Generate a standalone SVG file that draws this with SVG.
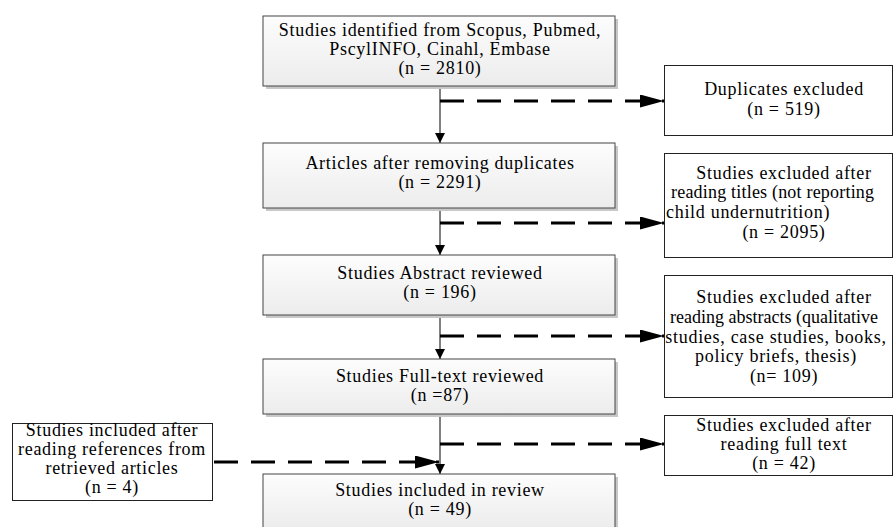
<svg xmlns="http://www.w3.org/2000/svg" width="894" height="527" viewBox="0 0 894 527">
<style>
text{font-family:"Liberation Serif","Times New Roman",serif;font-size:18px;letter-spacing:0.7px;fill:#000;text-anchor:middle}
.main{fill:url(#g);stroke:#444;stroke-width:1}
.shadow{fill:#c8c8c8}
.side{fill:#fff;stroke:#222;stroke-width:1}
.solid{stroke:#000;stroke-width:1;fill:none}
.dash{stroke:#000;stroke-width:3;stroke-dasharray:24 13;fill:none}
</style>
<defs>
<linearGradient id="g" x1="0" y1="0" x2="0" y2="1">
<stop offset="0" stop-color="#fdfdfd"/>
<stop offset="1" stop-color="#ececec"/>
</linearGradient>
<marker id="sm" markerUnits="userSpaceOnUse" markerWidth="10" markerHeight="12" refX="10" refY="5" orient="auto">
<path d="M0,0 L10,5 L0,10 Z" fill="#000"/>
</marker>
<marker id="big" markerUnits="userSpaceOnUse" markerWidth="24" markerHeight="14" refX="24" refY="6.5" orient="auto">
<path d="M0,0 L24,6.5 L0,13 Z" fill="#000"/>
</marker>
</defs>

<g id="connectors">
<line class="solid" x1="440" y1="86" x2="440" y2="143" marker-end="url(#sm)"/>
<line class="solid" x1="440" y1="208" x2="440" y2="255" marker-end="url(#sm)"/>
<line class="solid" x1="440" y1="315" x2="440" y2="359" marker-end="url(#sm)"/>
<line class="solid" x1="440" y1="414" x2="440" y2="474" marker-end="url(#sm)"/>
<line class="dash" x1="440" y1="101" x2="664" y2="101" marker-end="url(#big)"/>
<line class="dash" x1="440" y1="223" x2="664" y2="223" marker-end="url(#big)"/>
<line class="dash" x1="440" y1="336" x2="664" y2="336" marker-end="url(#big)"/>
<line class="dash" x1="440" y1="444" x2="664" y2="444" marker-end="url(#big)"/>
<line class="dash" x1="214" y1="462" x2="439" y2="462" marker-end="url(#big)"/>
</g>

<g id="identified">
<rect class="shadow" x="266" y="19" width="352" height="70"/>
<rect class="main" x="263" y="16" width="352" height="70"/>
<text x="440" y="36">Studies identified from Scopus, Pubmed,</text>
<text x="440" y="55">PscylINFO, Cinahl, Embase</text>
<text x="440" y="74">(n = 2810)</text>
</g>

<g id="duplicates">
<rect class="side" x="664.5" y="65.5" width="228" height="70"/>
<text x="784" y="95">Duplicates excluded</text>
<text x="784" y="115">(n = 519)</text>
</g>

<g id="after-duplicates">
<rect class="shadow" x="266" y="146" width="352" height="65"/>
<rect class="main" x="263" y="143" width="352" height="65"/>
<text x="440" y="169">Articles after removing duplicates</text>
<text x="440" y="188">(n = 2291)</text>
</g>

<g id="excluded-titles">
<rect class="side" x="664.5" y="153.5" width="228" height="104"/>
<text x="784" y="179">Studies excluded after</text>
<text x="671" y="198" style="text-anchor:start;letter-spacing:0.2px">reading titles (not reporting</text>
<text x="666" y="218" style="text-anchor:start">child undernutrition)</text>
<text x="784" y="238">(n = 2095)</text>
</g>

<g id="abstract">
<rect class="shadow" x="266" y="258" width="352" height="60"/>
<rect class="main" x="263" y="255" width="352" height="60"/>
<text x="440" y="279">Studies Abstract reviewed</text>
<text x="440" y="298">(n = 196)</text>
</g>

<g id="excluded-abstracts">
<rect class="side" x="664.5" y="275.5" width="228" height="122"/>
<text x="784" y="303">Studies excluded after</text>
<text x="670" y="323" style="text-anchor:start;letter-spacing:0px">reading abstracts (qualitative</text>
<text x="776" y="343">studies, case studies, books,</text>
<text x="776" y="362">policy briefs,  thesis)</text>
<text x="784" y="382">(n= 109)</text>
</g>

<g id="fulltext">
<rect class="shadow" x="266" y="362" width="352" height="55"/>
<rect class="main" x="263" y="359" width="352" height="55"/>
<text x="440" y="382">Studies Full-text reviewed</text>
<text x="440" y="401">(n =87)</text>
</g>

<g id="excluded-fulltext">
<rect class="side" x="664.5" y="415.5" width="228" height="60"/>
<text x="784" y="431">Studies excluded after</text>
<text x="784" y="450">reading full text</text>
<text x="784" y="469">(n = 42)</text>
</g>

<g id="references">
<rect class="side" x="12.5" y="423.5" width="200" height="77"/>
<text x="112" y="436">Studies included after</text>
<text x="112" y="455">reading references from</text>
<text x="112" y="474">retrieved articles</text>
<text x="112" y="493">(n = 4)</text>
</g>

<g id="included">
<rect class="shadow" x="266" y="477" width="352" height="55"/>
<rect class="main" x="263" y="474" width="352" height="55"/>
<text x="440" y="496">Studies included in review</text>
<text x="440" y="515">(n = 49)</text>
</g>
</svg>
